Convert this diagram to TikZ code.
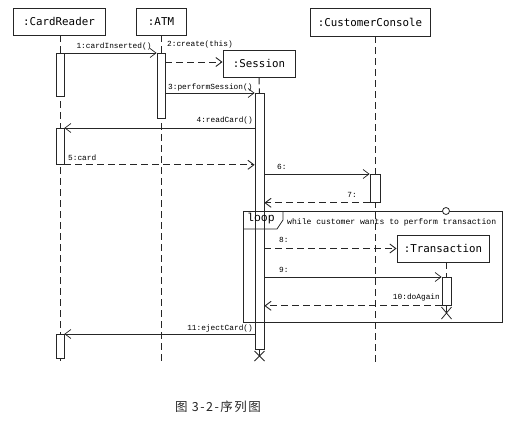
\documentclass[tikz,border=0pt]{standalone}
\usepackage{fontspec}
\usetikzlibrary{arrows.meta,calc}
\newfontfamily\boxfont{DejaVu Sans Mono}
\newfontfamily\msgfont{Liberation Mono}
\newfontfamily\cjkfont[LetterSpace=12]{Noto Sans CJK SC}
\colorlet{ln}{black!85}
\tikzset{
  obj/.style={draw=ln, line width=0.9pt, fill=white, inner sep=0pt, font=\boxfont\fontsize{10.8}{12}\selectfont},
  act/.style={draw=ln, line width=0.8pt, fill=white},
  life/.style={draw=ln, line width=1pt, dash pattern=on 7pt off 4pt},
  call/.style={draw=ln, line width=0.7pt, -{Straight Barb[length=6pt,width=9pt]}},
  reply/.style={draw=ln, line width=0.9pt, dash pattern=on 7pt off 4pt, -{Straight Barb[length=6pt,width=9pt]}},
  lbl/.style={inner sep=0pt, font=\msgfont\fontsize{7.8}{9}\selectfont, text=black},
  kill/.style={draw=ln, line width=0.8pt}
}
\begin{document}
\begin{tikzpicture}[x=1pt,y=-1pt]
\useasboundingbox (0,0) rectangle (512,421);
% object boxes
\node[obj, minimum width=92pt, minimum height=27pt] (cr) at (59,21.5) {:CardReader};
\node[obj, minimum width=50pt, minimum height=27pt] (atm) at (161,21.5) {:ATM};
\node[obj, minimum width=120pt, minimum height=28pt] (cc) at (370,22) {:CustomerConsole};
% lifeline end coordinates
\coordinate (crend) at (60,365);
\coordinate (atmend) at (161,365);
\coordinate (ccend) at (375,365);
\draw[life] (cr.south -| crend) -- (crend);
\draw[life] (atm.south) -- (atmend);
\draw[life] (cc.south -| ccend) -- (ccend);

% Session object
\node[obj, minimum width=72pt, minimum height=27pt] (ses) at (259,63.5) {:Session};

% activations
\node[act, minimum width=8pt, minimum height=43pt, inner sep=0pt, anchor=north] (cr1) at (60,53) {};
\node[act, minimum width=8pt, minimum height=65pt, inner sep=0pt, anchor=north] (atm1) at (161,53) {};
\node[act, minimum width=8pt, minimum height=36pt, inner sep=0pt, anchor=north] (cr2) at (60,128) {};
\node[act, minimum width=8pt, minimum height=24pt, inner sep=0pt, anchor=north] (cr3) at (60,334) {};
\draw[life] (ses.south) -- (259.5,93);
\node[act, minimum width=9pt, minimum height=256pt, inner sep=0pt, anchor=north] (s1) at (259.5,93) {};
\node[act, minimum width=10pt, minimum height=28pt, inner sep=0pt, anchor=north] (cc1) at (375,174) {};

% loop frame (drawn over the activation, no fill)
\draw[ln, line width=0.9pt] (243,211) rectangle (502,322);
\draw[ln, line width=0.8pt] (243,229) -- (277,229) -- (283,220) -- (283,211);
\node[inner sep=0pt, font=\msgfont\fontsize{11.5}{12}\selectfont] (looplbl) at (261,219) {loop};
\node[lbl, anchor=west, font=\msgfont\fontsize{8.1}{9}\selectfont] (guard) at (287,222) {while customer wants to perform transaction};
\node[draw=ln, fill=white, circle, line width=0.8pt, inner sep=0pt, minimum size=7pt] (cond) at (446,211) {};

% Transaction object
\node[obj, minimum width=92pt, minimum height=27pt] (tr) at (443,248.5) {:Transaction};
\draw[life] (tr.south -| 446.5,0) -- (446.5,277);
\node[act, minimum width=9pt, minimum height=28pt, inner sep=0pt, anchor=north] (t1) at (446.5,277) {};

% destroy marks
\coordinate (sx) at (259.5,356);
\coordinate (tx) at (446.5,313);
\draw[kill] ($(sx)+(-5,-5)$) -- ($(sx)+(5,5)$) ($(sx)+(-5,5)$) -- ($(sx)+(5,-5)$);
\draw[kill] ($(tx)+(-5,-6)$) -- ($(tx)+(5,6)$) ($(tx)+(-5,6)$) -- ($(tx)+(5,-6)$);
\draw[ln, line width=0.8pt] (s1.south) -- (sx);
\draw[ln, line width=0.8pt] (t1.south) -- (tx);

% messages
\draw[call] (cr1.north east) -- (atm1.north west);
\node[lbl] (m1) at (114,46) {1:cardInserted()};
\coordinate (m2s) at (165,62);
\draw[reply] (m2s) -- (ses.west |- m2s);
\node[lbl, anchor=west] (m2) at (167,44) {2:create(this)};
\draw[call] (atm1.east |- s1.north) -- (s1.north west);
\node[lbl, anchor=west] (m3) at (168,87) {3:performSession()};
\draw[call] (s1.west |- cr2.north) -- (cr2.north east);
\node[lbl, anchor=east] (m4) at (253,120) {4:readCard()};
\draw[reply] (cr2.south east) -- (s1.west |- cr2.south);
\node[lbl, anchor=west] (m5) at (68,157.5) {5:card};
\draw[call] (s1.east |- cc1.north) -- (cc1.north west);
\node[lbl, anchor=west] (m6) at (277,167) {6:};
\draw[reply] (cc1.south west) -- (s1.east |- cc1.south);
\node[lbl, anchor=east] (m7) at (357,195) {7:};
\draw[reply] (s1.east |- tr.west) -- (tr.west);
\node[lbl, anchor=west] (m8) at (279,240) {8:};
\draw[call] (s1.east |- t1.north) -- (t1.north west);
\node[lbl, anchor=west] (m9) at (279,270) {9:};
\draw[reply] (t1.south west) -- (s1.east |- t1.south);
\node[lbl, anchor=east] (m10) at (440,297) {10:doAgain};
\draw[call] (s1.west |- cr3.north) -- (cr3.north east);
\node[lbl, anchor=east] (m11) at (253,328) {11:ejectCard()};

% caption
\node[inner sep=0pt, font=\cjkfont\fontsize{12.5}{14}\selectfont, text=black!85] (cap) at (218,407) {图\ 3-2-序列图};
\end{tikzpicture}
\end{document}
